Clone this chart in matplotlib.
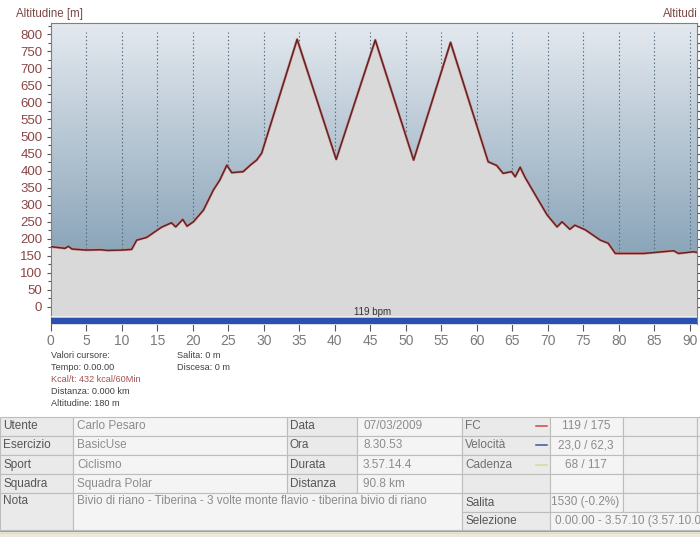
import matplotlib
matplotlib.use('Agg')
import matplotlib.pyplot as plt
import numpy as np
from matplotlib.colors import LinearSegmentedColormap
from matplotlib.patches import Rectangle

plt.rcParams['font.family'] = ['Liberation Sans', 'DejaVu Sans']

# altitude profile (km, m)
km = [0, 2, 2.5, 3, 5, 7, 8, 10, 11.4, 12.1, 13.5, 15.6, 17.0, 17.6, 18.6, 19.2,
      20.1, 21.5, 22.9, 23.8, 24.8, 25.5, 27.1, 28.1, 29.0, 29.7, 34.7, 40.2,
      45.7, 51.1, 56.3, 61.6, 62.8, 63.7, 64.9, 65.4, 66.1, 66.8, 68.4, 69.9,
      71.3, 72.0, 73.1, 73.8, 75.3, 77.4, 78.5, 79.5, 83.5, 87.7, 88.4, 90.5, 91]
alt = [177, 172, 178, 170, 167, 168, 166, 167, 169, 196, 204, 234, 247, 235, 257, 237,
       250, 284, 343, 372, 416, 394, 397, 416, 431, 451, 785, 433,
       783, 431, 776, 426, 415, 392, 397, 382, 410, 380, 323, 270,
       235, 250, 228, 240, 226, 196, 187, 157, 157, 165, 157, 162, 160]

x_ticks = list(range(0, 91, 5))
y_ticks = list(range(0, 801, 50))

cursor_lines = ["Valori cursore:", "Tempo: 0.00.00", "Kcal/t: 432 kcal/60Min",
                "Distanza: 0.000 km", "Altitudine: 180 m"]
climb_lines = ["Salita: 0 m", "Discesa: 0 m"]

table_rows = [
    ["Utente", "Carlo Pesaro", "Data", "07/03/2009", "FC", "119 / 175"],
    ["Esercizio", "BasicUse", "Ora", "8.30.53", "Velocità", "23,0 / 62,3"],
    ["Sport", "Ciclismo", "Durata", "3.57.14.4", "Cadenza", "68 / 117"],
    ["Squadra", "Squadra Polar", "Distanza", "90.8 km", "", ""],
]
marker_colors = ['#d04848', '#3a55a0', '#d8d89a', None]
note_text = "Bivio di riano - Tiberina - 3 volte monte flavio - tiberina bivio di riano"
salita_text = "1530 (-0.2%)"
selezione_text = "0.00.00 - 3.57.10 (3.57.10.0"

W, H = 700, 537
def rect(x0, y0, x1, y1):
    return [x0 / W, 1 - y1 / H, (x1 - x0) / W, (y1 - y0) / H]

fig = plt.figure(figsize=(7, 5.37), dpi=100)
fig.patch.set_facecolor('white')

# overlay in pixel coordinates for the text block and table
ov = fig.add_axes([0, 0, 1, 1], zorder=-1)
ov.set_xlim(0, W)
ov.set_ylim(H, 0)
ov.axis('off')

ax = fig.add_axes(rect(50.7, 23, 697, 324))
cmap = LinearSegmentedColormap.from_list('bg', ['#e4e9ef', '#6f90a9'])
grad = np.linspace(0, 1, 256).reshape(-1, 1)
ax.imshow(grad, extent=[0, 91, -50, 833], aspect='auto', cmap=cmap,
          origin='upper', zorder=0)
ax.vlines(x_ticks[1:], -50, 806, colors='#50677a', linestyles=(0, (1.2, 2.2)),
          linewidth=0.8, zorder=1)
ax.fill_between(km, alt, -50, color='#d9d9d9', zorder=2)
ax.plot(km, alt, color='#d89090', lw=1.9, zorder=3)
ax.plot(km, alt, color='#5e2424', lw=1.1, zorder=4)
ax.axhspan(-50, -32, color='#2a50b2', zorder=5)
ax.axhline(-27, color='#ececec', lw=0.8, zorder=5)
ax.text(45.3, -14, '119 bpm', ha='center', va='center', fontsize=7,
        color='#333333', zorder=6)
ax.set_xlim(0, 91)
ax.set_ylim(-50, 833)

ax.set_xticks(x_ticks)
ax.set_yticks(y_ticks)
ax.set_yticks(range(0, 826, 25), minor=True)
ax.tick_params(axis='x', length=5, width=0.8, color='#555555', labelcolor='#7a7a7a',
               labelsize=10, pad=2)
ax.tick_params(axis='y', which='both', right=True, labelright=False, width=0.8,
               color='#555555', labelcolor='#8b4545', labelsize=9.5, pad=3)
ax.tick_params(axis='y', which='major', length=3)
ax.tick_params(axis='y', which='minor', length=2)
for s in ['left', 'top', 'right']:
    ax.spines[s].set_color('#7f7f7f')
ax.spines['bottom'].set_visible(False)

ov.text(16, 14, 'Altitudine [m]', fontsize=8.3, color='#7d4646', va='center')
ov.text(663, 14, 'Altitudi', fontsize=8.3, color='#7d4646', va='center')

cursor_y = [355, 367, 379.5, 392, 403.5]
for txt, yy in zip(cursor_lines, cursor_y):
    c = '#a05252' if txt.startswith('Kcal') else '#404040'
    ov.text(51, yy, txt, fontsize=6.6, color=c, va='center')
for txt, yy in zip(climb_lines, cursor_y):
    ov.text(177, yy, txt, fontsize=6.6, color='#404040', va='center')

# table
col_x = [0, 73, 287, 357, 462, 550, 623, 697, 760]
row_y = [416.7, 435.7, 455, 474.3, 493.3, 511.7, 530]
lab_bg, val_bg, emp_bg, edge = '#eaeaea', '#f4f4f4', '#efefef', '#bdbdbd'

def cell(x0, x1, y0, y1, fc):
    ov.add_patch(Rectangle((x0, y0), x1 - x0, y1 - y0, facecolor=fc,
                           edgecolor=edge, lw=0.8))

for r, row in enumerate(table_rows):
    y0, y1 = row_y[r], row_y[r + 1]
    yc = (y0 + y1) / 2
    for c in range(8):
        fc = lab_bg if c in (0, 2, 4) else (val_bg if c in (1, 3, 5) else emp_bg)
        cell(col_x[c], col_x[c + 1], y0, y1, fc)
    ov.text(3, yc, row[0], fontsize=8.5, color='#555555', va='center')
    ov.text(77, yc, row[1], fontsize=8.5, color='#8c8c8c', va='center')
    ov.text(290, yc, row[2], fontsize=8.5, color='#555555', va='center')
    ov.text(363, yc, row[3], fontsize=8.5, color='#8c8c8c', va='center')
    ov.text(465, yc, row[4], fontsize=8.5, color='#707070', va='center')
    ov.text(586, yc, row[5], fontsize=8.5, color='#8c8c8c', va='center', ha='center')
    if marker_colors[r]:
        ov.plot([536, 547], [yc, yc], color=marker_colors[r], lw=1.1)

cell(col_x[0], col_x[1], row_y[4], row_y[6], lab_bg)
ov.text(3, 501.5, 'Nota', fontsize=8.5, color='#555555', va='center')
cell(col_x[1], col_x[4], row_y[4], row_y[6], val_bg)
ov.text(77, 501.5, note_text, fontsize=8.5, color='#8c8c8c', va='center')
cell(col_x[4], col_x[5], row_y[4], row_y[5], lab_bg)
cell(col_x[5], col_x[6], row_y[4], row_y[5], val_bg)
cell(col_x[6], col_x[7], row_y[4], row_y[5], emp_bg)
cell(col_x[7], col_x[8], row_y[4], row_y[5], emp_bg)
ov.text(465, 502.5, 'Salita', fontsize=8.5, color='#555555', va='center')
ov.text(551, 502.5, salita_text, fontsize=8.5, color='#8c8c8c', va='center')
cell(col_x[4], col_x[5], row_y[5], row_y[6], lab_bg)
cell(col_x[5], col_x[8], row_y[5], row_y[6], val_bg)
ov.text(465, 521, 'Selezione', fontsize=8.5, color='#555555', va='center')
ov.text(555, 521, selezione_text, fontsize=8.5, color='#8c8c8c', va='center')

ov.add_patch(Rectangle((0, 531), W, 6, facecolor='#ece9d8', edgecolor='none'))
ov.plot([0, W], [531, 531], color='#a0a0a0', lw=0.8)
ov.plot([0, W], [533, 533], color='#d8d8d8', lw=0.6)

fig.savefig('out.png', dpi=100)
